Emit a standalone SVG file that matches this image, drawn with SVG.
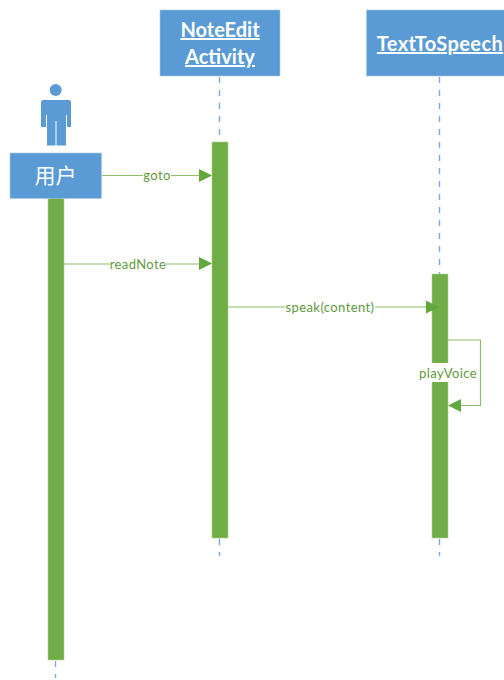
<svg xmlns="http://www.w3.org/2000/svg" width="504" height="680" viewBox="0 0 504 680">
<style>
.box{fill:#5b9bd5;stroke:#a9c8e8;stroke-width:.6}
.bar{fill:#70ad47;stroke:#a8cf90;stroke-width:.6}
.life{stroke:#7aa9dc;stroke-width:1.4;stroke-dasharray:6 7;fill:none}
.msg{stroke:#8dbd6f;stroke-width:1.2;fill:none}
.head{fill:#62a83c}
.title{font-family:Lato,"Liberation Sans",sans-serif;font-weight:700;font-size:20px;fill:#fff;text-anchor:middle;text-decoration:underline}
.lbl{font-family:Lato,"Liberation Sans",sans-serif;font-size:13px;fill:#5f9a3c;text-anchor:middle;letter-spacing:.4px}
.bg{fill:#fff}
</style>
<rect width="504" height="680" fill="#fff"/>
<g id="lifelines">
<path class="life" d="M219.500 77V142"/>
<path class="life" d="M219.500 539V556"/>
<path class="life" d="M439.500 77V274"/>
<path class="life" d="M439.500 539V556"/>
<path class="life" d="M55.500 661V678"/>
</g>
<g id="actor-icon">
<circle cx="55.700" cy="90" r="6" fill="#5b9bd5"/>
<path d="M43 100H69Q71 100 71 102V127H67V115H66V145.500H56.500V121H55.500V145.500H47V115H46V127H41V102Q41 100 43 100Z" fill="#5b9bd5"/>
</g>
<g id="bar-user"><rect class="bar" x="48" y="198" width="16" height="462"/></g>
<g id="bar-noteedit"><rect class="bar" x="212" y="142" width="16" height="396"/></g>
<g id="bar-tts"><rect class="bar" x="432" y="274" width="16" height="264"/></g>
<g id="node-user">
<rect class="box" x="10" y="153" width="91.500" height="45.500"/>
<text x="55.500" y="183" font-family="'Noto Sans CJK SC',sans-serif" font-size="21" fill="#fff" text-anchor="middle">用户</text>
</g>
<g id="node-noteedit">
<rect class="box" x="160" y="10" width="120" height="66"/>
<text class="title" x="220" y="37">NoteEdit</text>
<text class="title" x="220" y="64">Activity</text>
</g>
<g id="node-tts">
<rect class="box" x="366.500" y="10" width="138" height="66"/>
<text class="title" x="440" y="51" letter-spacing=".4">TextToSpeech</text>
</g>
<g id="connectors">
<path class="msg" d="M102 175.500H199"/>
<path class="head" d="M199 169V182L212 175.500Z"/>
<path class="msg" d="M64 264H199"/>
<path class="head" d="M199 257V270L212 263.500Z"/>
<path class="msg" d="M228 307H426"/>
<path class="head" d="M426 300.500V313.500L439 307Z"/>
<path class="msg" d="M448 340H480.500V405.500H461"/>
<path class="head" d="M461 399V412L448 405.500Z"/>
<rect class="bg" x="143" y="169" width="28" height="14"/>
<text class="lbl" x="157" y="180">goto</text>
<rect class="bg" x="110" y="258" width="56" height="14"/>
<text class="lbl" x="138" y="269">readNote</text>
<rect class="bg" x="285" y="301" width="90" height="14"/>
<text class="lbl" x="330" y="312">speak(content)</text>
<rect class="bg" x="419" y="363" width="58" height="19"/>
<text class="lbl" x="448" y="378">playVoice</text>
</g>
</svg>
